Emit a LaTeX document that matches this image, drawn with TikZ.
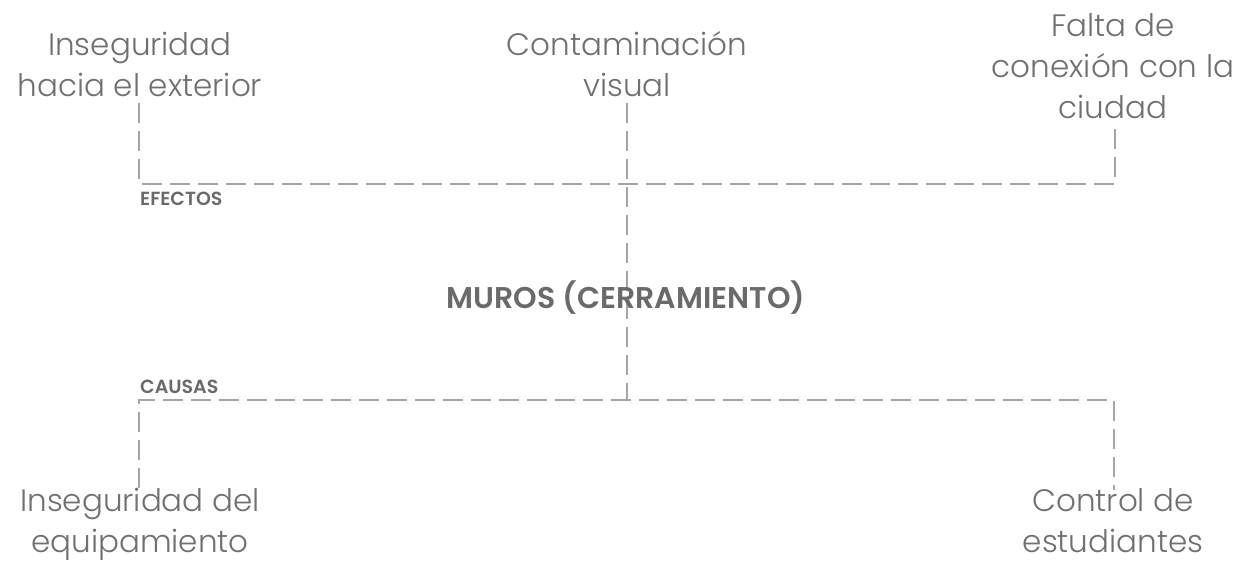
\documentclass[tikz,border=0pt]{standalone}
\usepackage{fontspec}
\setmainfont{Poppins}[UprightFont=* Light, BoldFont=* SemiBold]
\begin{document}
\begin{tikzpicture}[x=1pt,y=-1pt,
  lbl/.style={align=center, text=txtgray, font=\fontsize{31}{41}\selectfont, inner sep=0pt},
  tag/.style={text=boldgray, font=\fontsize{19}{22}\selectfont\bfseries, inner sep=0pt, anchor=base west},
  dashline/.style={draw=linegray, line width=2pt, dash pattern=on 20pt off 8pt}]
\definecolor{txtgray}{HTML}{707070}
\definecolor{boldgray}{HTML}{6A6A6A}
\definecolor{linegray}{HTML}{A6A6A6}
\useasboundingbox (0,0) rectangle (1245,562);
% effects
\node[lbl, anchor=base] (e1) at (140,96) {Inseguridad\\hacia el exterior};
\node[lbl, anchor=base] (e2) at (627,96) {Contaminación\\visual};
\node[lbl, anchor=base] (e3) at (1113,118) {Falta de\\conexión con la\\ciudad};
% junctions
\coordinate (e1b) at (139,103);
\coordinate (e2b) at (627,103);
\coordinate (e3b) at (1115,122);
\coordinate (jE1) at (139,184);
\coordinate (jE3) at (1115,184);
\coordinate (jC) at (627,400);
\coordinate (jC1) at (139,400);
\coordinate (jC3) at (1114,400);
\coordinate (c1t) at (139,488);
\coordinate (c3t) at (1114,490);
\draw[dashline] (e1b) -- (jE1) -- (jE3) -- (e3b);
\draw[dashline] (e2b) -- (jC);
\draw[dashline] (c1t) -- (jC1) -- (jC3) -- (c3t);
% labels
\node[tag] (tE) at (140,205) {EFECTOS};
\node[tag] (tC) at (140,393) {CAUSAS};
\node[text=boldgray, font=\fontsize{30}{34}\selectfont\bfseries, inner sep=0pt, anchor=base] (m) at (626,308) {MUROS (CERRAMIENTO)};
% causes
\node[lbl, anchor=base] (c1) at (140,552) {Inseguridad del\\equipamiento};
\node[lbl, anchor=base] (c2) at (1113,552) {Control de\\estudiantes};
\end{tikzpicture}
\end{document}
